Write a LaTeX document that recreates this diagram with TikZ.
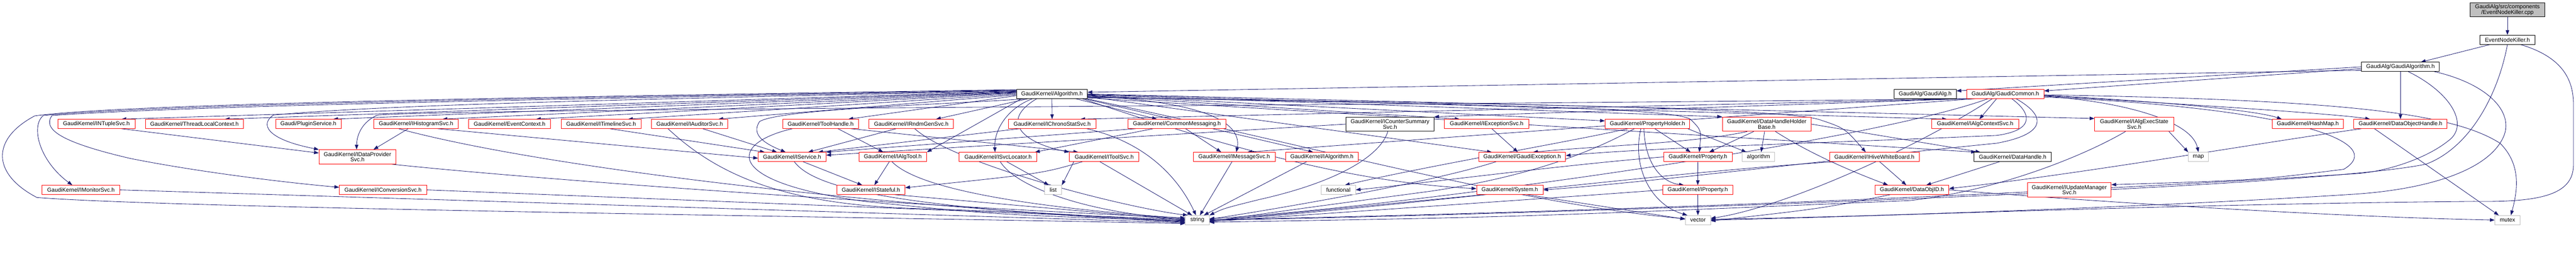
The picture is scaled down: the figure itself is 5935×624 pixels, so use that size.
\documentclass[tikz,border=0pt]{standalone}
\usepackage{fontspec}
\newfontfamily\dxfont{Liberation Sans}
\usetikzlibrary{arrows.meta}
\definecolor{edgec}{HTML}{191970}
\definecolor{grayb}{HTML}{BFBFBF}
\definecolor{redb}{HTML}{FF0000}
\pgfdeclarelayer{edgelayer}
\pgfsetlayers{edgelayer,main}
\tikzset{
 nd/.style={draw, line width=1pt, inner sep=0pt, minimum height=21pt, fill=white, align=center, font=\dxfont\fontsize{13}{12.5}\selectfont, text=black},
 rn/.style={nd, draw=redb},
 bn/.style={nd, draw=black},
 gn/.style={nd, draw=grayb},
 two/.style={minimum height=33pt},
 dep/.style={draw=edgec, line width=1pt, -{Triangle[length=11pt,width=8pt]}},
}
\begin{document}
\begin{tikzpicture}[x=1pt,y=-1pt]
\useasboundingbox (0,0) rectangle (5935,624);
% ---------- nodes ----------
\node[bn,two,fill=grayb,minimum width=172pt] (cpp) at (5777,22.5) {GaudiAlg/src/components\\/EventNodeKiller.cpp};
\node[bn,minimum width=128pt] (enk) at (5777,91.5) {EventNodeKiller.h};
\node[bn,minimum width=179pt] (galgo) at (5530.5,154) {GaudiAlg/GaudiAlgorithm.h};
\node[bn,minimum width=163pt] (alg) at (2423.5,216.5) {GaudiKernel/Algorithm.h};
\node[bn,minimum width=143pt] (galg) at (4435.5,216.5) {GaudiAlg/GaudiAlg.h};
\node[rn,minimum width=178pt] (gcommon) at (4620,216.5) {GaudiAlg/GaudiCommon.h};
% row 4
\node[rn,minimum width=178pt] (ntuple) at (222,285.5) {GaudiKernel/INTupleSvc.h};
\node[rn,minimum width=226pt] (tlc) at (448,285.5) {GaudiKernel/ThreadLocalContext.h};
\node[rn,minimum width=151pt] (plugin) at (710.5,285.5) {Gaudi/PluginService.h};
\node[rn,minimum width=195pt] (ihist) at (958.5,285.5) {GaudiKernel/IHistogramSvc.h};
\node[rn,minimum width=188pt] (evctx) at (1174,285.5) {GaudiKernel/EventContext.h};
\node[rn,minimum width=184pt] (itimeline) at (1385,285.5) {GaudiKernel/ITimelineSvc.h};
\node[rn,minimum width=176pt] (iaud) at (1589,285.5) {GaudiKernel/IAuditorSvc.h};
\node[rn,minimum width=175pt] (toolh) at (1890.5,285.5) {GaudiKernel/ToolHandle.h};
\node[rn,minimum width=195pt] (irndm) at (2099.5,285.5) {GaudiKernel/IRndmGenSvc.h};
\node[rn,minimum width=202pt] (ichrono) at (2424,285.5) {GaudiKernel/IChronoStatSvc.h};
\node[rn,minimum width=225pt] (cmsg) at (2711.5,285.5) {GaudiKernel/CommonMessaging.h};
\node[bn,two,minimum width=203pt] (icounter) at (3202.5,286) {GaudiKernel/ICounterSummary\\Svc.h};
\node[rn,minimum width=194pt] (iexc) at (3425,285.5) {GaudiKernel/IExceptionSvc.h};
\node[rn,minimum width=195pt] (propholder) at (3795.5,285.5) {GaudiKernel/PropertyHolder.h};
\node[rn,two,minimum width=205pt] (dhhb) at (4070.5,286) {GaudiKernel/DataHandleHolder\\Base.h};
\node[rn,minimum width=201pt] (ialgctx) at (4550.5,285.5) {GaudiKernel/IAlgContextSvc.h};
\node[rn,two,minimum width=182pt] (iaes) at (4917,286) {GaudiKernel/IAlgExecState\\Svc.h};
\node[rn,minimum width=164pt] (hashmap) at (5317,285.5) {GaudiKernel/HashMap.h};
\node[rn,minimum width=215pt] (dobjh) at (5530.5,285.5) {GaudiKernel/DataObjectHandle.h};
% row 5
\node[rn,two,minimum width=177pt] (dataprov) at (823.5,361.5) {GaudiKernel/IDataProvider\\Svc.h};
\node[rn,minimum width=156pt] (iservice) at (1825,361.5) {GaudiKernel/IService.h};
\node[rn,minimum width=156pt] (ialgtool) at (2057,361.5) {GaudiKernel/IAlgTool.h};
\node[rn,minimum width=179pt] (isvcloc) at (2299.5,361.5) {GaudiKernel/ISvcLocator.h};
\node[rn,minimum width=160pt] (itoolsvc) at (2544,361.5) {GaudiKernel/IToolSvc.h};
\node[rn,minimum width=189pt] (imsg) at (2843.5,361.5) {GaudiKernel/IMessageSvc.h};
\node[rn,minimum width=167pt] (ialgorithm) at (3045.5,361.5) {GaudiKernel/IAlgorithm.h};
\node[rn,minimum width=200pt] (gexc) at (3507,361.5) {GaudiKernel/GaudiException.h};
\node[rn,minimum width=158pt] (property) at (3912,361.5) {GaudiKernel/Property.h};
\node[gn,minimum width=75pt] (algorithm) at (4051.5,361.5) {algorithm};
\node[rn,minimum width=207pt] (hivewb) at (4318.5,361.5) {GaudiKernel/IHiveWhiteBoard.h};
\node[bn,minimum width=178pt] (datahandle) at (4637,361.5) {GaudiKernel/DataHandle.h};
\node[gn,minimum width=46pt] (map) at (5065,361.5) {map};
% row 6
\node[rn,minimum width=179pt] (imonitor) at (186.5,437.5) {GaudiKernel/IMonitorSvc.h};
\node[rn,minimum width=201pt] (iconv) at (882.5,437.5) {GaudiKernel/IConversionSvc.h};
\node[rn,minimum width=157pt] (istateful) at (2006.5,437.5) {GaudiKernel/IStateful.h};
\node[gn,minimum width=39pt] (list) at (2426.5,437.5) {list};
\node[gn,minimum width=79pt] (functional) at (3083.5,437.5) {functional};
\node[rn,minimum width=153pt] (system) at (3478.5,437.5) {GaudiKernel/System.h};
\node[rn,minimum width=161pt] (iproperty) at (3911.5,437.5) {GaudiKernel/IProperty.h};
\node[rn,minimum width=170pt] (dataobjid) at (4405,437.5) {GaudiKernel/DataObjID.h};
\node[rn,two,minimum width=193pt] (iupdmgr) at (4767.5,437.5) {GaudiKernel/IUpdateManager\\Svc.h};
% row 7
\node[gn,minimum width=55pt] (string) at (2758.5,507) {string};
\node[gn,minimum width=58pt] (vector) at (3912,507) {vector};
\node[gn,minimum width=58pt] (mutex) at (5777,507) {mutex};
% ---------- edges ----------
\begin{pgfonlayer}{edgelayer}
% top chain
\draw[dep] (cpp) -- (enk);
\draw[dep] ([xshift=25pt]enk.south west) -- ([xshift=47pt]galgo.north);
\draw[dep] (enk.south) .. controls (5755,220) and (5690,340) .. (5590,378) .. controls (5300,440) and (3300,500) .. (string.east);
\draw[dep] ([xshift=-35pt]enk.south east) .. controls (5900,130) and (5929,180) .. (5929,240) -- (5929,380) .. controls (5929,450) and (5850,466) .. (5700,464) .. controls (5000,470) and (4300,500) .. (vector.east);
\draw[dep] (galgo.west) -- ([yshift=7pt]galg.east);
\draw[dep] ([yshift=-4pt]galgo.west) -- ([yshift=7pt]gcommon.east);
\draw[dep] ([yshift=-8pt]galgo.west) -- ([yshift=4pt]alg.east);
\draw[dep] (galgo) -- (dobjh);
\draw[dep] ([xshift=18pt]galgo.south) .. controls (5650,215) and (5690,290) .. (5640,325) .. controls (5590,365) and (5500,395) .. (5430,400) .. controls (4500,460) and (3400,495) .. ([yshift=1pt]string.east);
\draw[dep] ([xshift=78pt]galgo.south) .. controls (5720,190) and (5790,250) .. (5770,310) .. controls (5740,390) and (5600,435) .. (5430,447) .. controls (5000,475) and (4300,500) .. ([yshift=2pt]vector.east);
% GaudiCommon
\draw[dep] ([xshift=-20pt]gcommon.south) -- ([xshift=10pt]ialgctx.north);
\draw[dep] (gcommon.south west) -- (icounter.north east);
\draw[dep] ([yshift=-3pt]gcommon.east) .. controls (5000,235) and (5200,255) .. ([xshift=-60pt]hashmap.north);
\draw[dep] ([yshift=-5pt]gcommon.east) .. controls (4900,235) and (5050,280) .. (map.north);
\draw[dep] ([yshift=-7pt]gcommon.east) .. controls (5300,250) and (5500,330) .. (5400,390) .. controls (5200,415) .. ([yshift=-5pt]iupdmgr.north east);
\draw[dep] ([xshift=15pt]gcommon.south) .. controls (4680,260) and (4690,300) .. (4600,312) .. controls (4200,330) and (3800,340) .. ([yshift=3pt]gexc.east);
\draw[dep] ([xshift=25pt]gcommon.south) .. controls (4720,270) and (4710,310) .. (4600,330) .. controls (4200,370) and (3800,420) .. (system.east);
\draw[dep] ([xshift=20pt]gcommon.south west) -- ([xshift=30pt]imsg.north);
\draw[dep] ([xshift=5pt]gcommon.south west) -- ([xshift=65pt]ichrono.north);
\draw[dep] ([yshift=-2pt]gcommon.east) .. controls (5400,230) and (5650,260) .. (5760,330) .. controls (5810,380) and (5800,440) .. ([xshift=8pt]mutex.north);
\draw[dep] ([xshift=-40pt]gcommon.south) .. controls (4300,330) and (3200,480) .. ([yshift=3pt]string.east);
\draw[dep] ([xshift=-30pt]gcommon.south) .. controls (4400,350) and (4100,480) .. ([yshift=4pt]vector.east);
\draw[dep] ([xshift=10pt]gcommon.south west) .. controls (3000,245) and (1100,250) .. (870,265) .. controls (835,280) and (822,310) .. ([xshift=-2pt]dataprov.north);
\draw[dep] ([yshift=-4pt]gcommon.east) .. controls (5200,250) and (5400,265) .. ([xshift=-70pt]dobjh.north);
% Algorithm.h -> row 4
\draw[dep] ([yshift=6pt]alg.west) -- ([xshift=58pt]ntuple.north);
\draw[dep] ([yshift=5pt]alg.west) -- ([xshift=70pt]tlc.north);
\draw[dep] ([yshift=4pt]alg.west) -- ([xshift=57pt]plugin.north);
\draw[dep] ([yshift=3pt]alg.west) -- ([xshift=61pt]ihist.north);
\draw[dep] ([yshift=2pt]alg.west) -- ([xshift=61pt]evctx.north);
\draw[dep] ([yshift=0pt]alg.west) -- ([xshift=62pt]itimeline.north);
\draw[dep] ([yshift=-2pt]alg.west) -- ([xshift=66pt]iaud.north);
\draw[dep] ([yshift=-4pt]alg.west) -- ([xshift=64pt]toolh.north);
\draw[dep] ([xshift=-55pt]alg.south) -- ([xshift=57pt]irndm.north);
\draw[dep] (alg.south) -- (ichrono.north);
\draw[dep] ([xshift=55pt]alg.south) -- ([xshift=-46pt]cmsg.north);
\draw[dep] ([yshift=-4pt]alg.east) -- ([xshift=-62pt]iexc.north);
\draw[dep] ([yshift=-3pt]alg.east) -- ([yshift=7pt]propholder.west);
\draw[dep] ([yshift=-2pt]alg.east) -- (dhhb.north west);
\draw[dep] ([yshift=-1pt]alg.east) -- ([xshift=-65pt]ialgctx.north);
\draw[dep] ([yshift=0pt]alg.east) -- ([yshift=-4pt]iaes.north west);
% Algorithm.h -> lower rows
\draw[dep] ([yshift=7pt]alg.west) .. controls (1500,228) and (900,240) .. (630,265) .. controls (600,285) and (610,320) .. (dataprov.north west);
\draw[dep] ([yshift=8pt]alg.west) .. controls (1500,225) and (500,240) .. (120,266) .. controls (95,300) and (150,330) .. (300,365) .. controls (450,395) and (650,420) .. ([yshift=6pt]iconv.west);
\draw[dep] ([yshift=9pt]alg.west) .. controls (1500,222) and (400,238) .. (100,266) .. controls (70,290) and (90,370) .. ([xshift=-20pt]imonitor.north);
\draw[dep] ([yshift=10pt]alg.west) .. controls (1500,220) and (300,236) .. (80,267) .. controls (-20,320) and (-20,400) .. (85,455) .. controls (400,480) and (2000,500) .. ([yshift=-8pt]string.west);
\draw[dep] ([xshift=-60pt]alg.south) .. controls (2200,240) and (1800,250) .. (1750,280) .. controls (1730,310) and (1760,330) .. ([xshift=-15pt]iservice.north);
\draw[dep] ([xshift=-45pt]alg.south) .. controls (2320,250) and (2290,300) .. ([xshift=-7pt]isvcloc.north);
\draw[dep] ([xshift=-35pt]alg.south) .. controls (2300,280) and (2360,330) .. (itoolsvc.north west);
\draw[dep] ([xshift=-70pt]alg.south) -- (ialgtool.north east);
\draw[dep] ([yshift=-5pt]alg.east) .. controls (2800,235) and (2860,290) .. ([xshift=5pt]imsg.north);
\draw[dep] ([xshift=75pt]alg.south) -- ([xshift=-20pt]ialgorithm.north);
\draw[dep] ([yshift=-6pt]alg.east) -- ([xshift=-70pt]gexc.north);
\draw[dep] ([yshift=-7pt]alg.east) .. controls (3300,240) and (3850,245) .. (3895,275) .. controls (3920,300) .. ([xshift=3pt]property.north);
\draw[dep] ([yshift=-8pt]alg.east) .. controls (3500,238) and (4100,250) .. (4190,275) .. controls (4250,295) .. ([xshift=-20pt]hivewb.north);
\draw[dep] ([yshift=-9pt]alg.east) -- ([xshift=5pt]datahandle.north west);
\draw[dep] ([xshift=80pt]alg.south) .. controls (3000,330) and (3500,470) .. ([yshift=3pt]vector.west);
\draw[dep] ([xshift=70pt]alg.south) .. controls (2800,330) and (3100,420) .. ([yshift=3pt]system.west);
% row 4 sources
\draw[dep] ([xshift=58pt]ntuple.south) -- ([yshift=9pt]dataprov.west);
\draw[dep] ([xshift=-18pt]ihist.south) -- ([xshift=37pt]dataprov.north);
\draw[dep] ([xshift=-40pt]ihist.south) .. controls (1300,400) and (2200,490) .. ([yshift=-1pt]string.west);
\draw[dep] ([xshift=50pt]ihist.south) -- ([yshift=-3pt]iservice.west);
\draw[dep] ([xshift=20pt]itimeline.south) -- ([xshift=-63pt]iservice.north);
\draw[dep] ([xshift=30pt]iaud.south) -- ([xshift=-35pt]iservice.north);
\draw[dep] ([xshift=-50pt]iaud.south) .. controls (1650,400) and (1800,470) .. (2100,480) .. controls (2400,490) .. ([yshift=-4pt]string.west);
\draw[dep] ([xshift=40pt]toolh.south) -- ([xshift=-22pt]ialgtool.north);
\draw[dep] ([xshift=-65pt]toolh.south) .. controls (1680,330) and (1660,420) .. (2000,465) .. controls (2300,495) .. ([yshift=-2pt]string.west);
\draw[dep] ([xshift=70pt]toolh.south) -- ([xshift=-60pt]itoolsvc.north);
\draw[dep] ([xshift=-35pt]irndm.south) -- ([xshift=37pt]iservice.north);
\draw[dep] ([xshift=8pt]irndm.south) .. controls (2200,380) and (2600,480) .. ([xshift=-22pt]string.north);
\draw[dep] ([xshift=-75pt]ichrono.south) -- ([xshift=60pt]iservice.north);
\draw[dep] ([xshift=80pt]ichrono.south) .. controls (2650,330) and (2720,420) .. ([xshift=-3pt]string.north);
\draw[dep] ([xshift=20pt]cmsg.south) -- ([xshift=-30pt]imsg.north);
\draw[dep] ([xshift=-95pt]cmsg.south) -- (iservice.north east);
\draw[dep] ([xshift=-55pt]cmsg.south) -- ([xshift=-5pt]isvcloc.north east);
\draw[dep] (icounter.west) -- ([yshift=4pt]iservice.east);
\draw[dep] ([xshift=-5pt]icounter.south) .. controls (3180,360) and (3080,420) .. (2900,460) .. controls (2820,480) .. (string.north east);
\draw[dep] ([xshift=12pt]iexc.south) -- ([xshift=-10pt]gexc.north);
\draw[dep] ([xshift=17pt]propholder.south) -- ([xshift=-17pt]property.north);
\draw[dep] ([xshift=-8pt]propholder.south) .. controls (3790,380) and (3830,420) .. ([xshift=-32pt]iproperty.north);
\draw[dep] ([xshift=-15pt]propholder.south) .. controls (3760,380) and (3800,470) .. ([xshift=5pt]vector.north west);
\draw[dep] ([xshift=-30pt]propholder.south) .. controls (3650,360) and (3500,410) .. (3300,440) .. controls (3000,480) .. ([yshift=-3pt]string.east);
\draw[dep] ([xshift=-45pt]propholder.south) .. controls (3600,330) and (3300,380) .. ([xshift=15pt]functional.north);
\draw[dep] ([xshift=-5pt]propholder.south east) -- ([xshift=-28pt]algorithm.north);
\draw[dep] ([xshift=-5pt]dhhb.south) -- ([xshift=6pt]algorithm.north);
\draw[dep] ([xshift=-30pt]dhhb.south) -- ([xshift=26pt]property.north);
\draw[dep] ([xshift=-45pt]dhhb.south) .. controls (3900,330) and (3700,335) .. ([xshift=25pt]gexc.north);
\draw[dep] ([xshift=20pt]dhhb.south) .. controls (4180,360) and (4280,400) .. ([xshift=-55pt]dataobjid.north);
\draw[dep] (dhhb.east) -- ([xshift=15pt]datahandle.north west);
\draw[dep] ([xshift=80pt]iaes.south) -- (map.north west);
\draw[dep] ([xshift=-20pt]iaes.south) .. controls (4800,360) and (4600,440) .. (4400,462) .. controls (3500,500) .. ([yshift=-5pt]string.east);
\draw[dep] ([xshift=-60pt]dobjh.south) -- ([xshift=-20pt]mutex.north);
\draw[dep] ([xshift=-90pt]dobjh.south) .. controls (5200,330) and (4800,400) .. ([yshift=3pt]dataobjid.east);
% row 5 sources
\draw[dep] ([xshift=80pt]dataprov.south) .. controls (1300,420) and (2200,480) .. ([yshift=5pt]string.west);
\draw[dep] ([xshift=25pt]iservice.south) -- ([xshift=-20pt]istateful.north);
\draw[dep] ([xshift=5pt]iservice.south) .. controls (1880,440) and (2100,480) .. ([yshift=-5pt]string.west);
\draw[dep] ([xshift=-8pt]ialgtool.south) -- ([xshift=8pt]istateful.north);
\draw[dep] ([xshift=-2pt]ialgtool.south) .. controls (2120,440) and (2400,480) .. ([yshift=4pt]string.west);
\draw[dep] ([xshift=20pt]isvcloc.south) -- ([xshift=-10pt]list.north);
\draw[dep] ([xshift=5pt]isvcloc.south) .. controls (2340,430) and (2500,490) .. ([yshift=2pt]string.west);
\draw[dep] ([xshift=-70pt]itoolsvc.south) -- (list.north east);
\draw[dep] ([xshift=-50pt]itoolsvc.south) .. controls (2400,400) .. ([yshift=5pt]istateful.east);
\draw[dep] ([xshift=-10pt]itoolsvc.south) -- ([xshift=-12pt]string.north);
\draw[dep] ([xshift=-5pt]imsg.south) -- ([xshift=6pt]string.north);
\draw[dep] ([xshift=-35pt]ialgorithm.south) -- ([xshift=15pt]string.north);
\draw[dep] ([xshift=-60pt]gexc.south) .. controls (3300,420) and (2950,480) .. ([yshift=2pt]string.east);
\draw[dep] (property) -- (iproperty);
\draw[dep] (property.west) .. controls (3600,380) and (3300,420) .. (functional.east);
\draw[dep] ([xshift=12pt]hivewb.south) -- ([xshift=-13pt]dataobjid.north);
\draw[dep] ([xshift=-90pt]hivewb.south) .. controls (3800,400) and (3200,480) .. ([yshift=-1pt]string.east);
\draw[dep] ([xshift=-30pt]datahandle.south) -- ([xshift=33pt]dataobjid.north);
% row 6 sources
\draw[dep] (imonitor.east) -- ([yshift=-6pt]string.west);
\draw[dep] (iconv.east) -- ([yshift=1pt]string.west);
\draw[dep] ([xshift=55pt]istateful.south) -- (string.west);
\draw[dep] ([xshift=40pt]system.south) -- ([yshift=2pt]vector.west);
\draw[dep] ([xshift=-60pt]system.south) -- ([yshift=-2pt]string.east);
\draw[dep] (iproperty) -- (vector);
\draw[dep] (iproperty.west) .. controls (3600,455) and (3000,495) .. ([yshift=-4pt]string.east);
\draw[dep] (dataobjid.east) .. controls (4900,470) and (5400,500) .. (mutex.west);
\draw[dep] ([xshift=-50pt]dataobjid.south) .. controls (4200,480) .. ([yshift=-2pt]vector.east);
\end{pgfonlayer}
\end{tikzpicture}
\end{document}
